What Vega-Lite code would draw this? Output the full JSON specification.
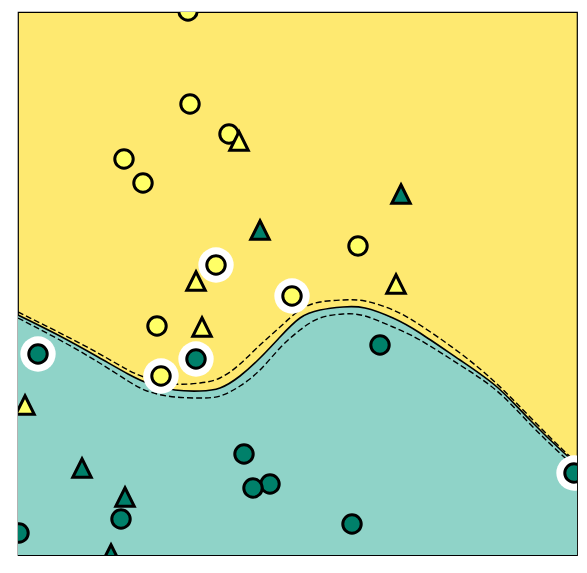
{
  "$schema": "https://vega.github.io/schema/vega-lite/v6.json",
  "width": 559,
  "height": 543,
  "autosize": {"type": "none"},
  "padding": {"left": 18, "top": 12, "right": 10, "bottom": 18},
  "background": "white",
  "config": {"view": {"fill": "#fee970", "stroke": "black", "strokeWidth": 1.2}},
  "datasets": {
    "curve": [
      {"x": 0, "mid": 240, "hi": 243, "lo": 237},
      {"x": 40, "mid": 220, "hi": 223, "lo": 216},
      {"x": 80, "mid": 198, "hi": 202, "lo": 193},
      {"x": 110, "mid": 181, "hi": 185, "lo": 174},
      {"x": 132, "mid": 171, "hi": 176, "lo": 163},
      {"x": 157, "mid": 165, "hi": 171, "lo": 158},
      {"x": 182, "mid": 164, "hi": 172, "lo": 157},
      {"x": 202, "mid": 167, "hi": 177, "lo": 159},
      {"x": 222, "mid": 179, "hi": 191, "lo": 169},
      {"x": 242, "mid": 197, "hi": 210, "lo": 185},
      {"x": 262, "mid": 218, "hi": 228, "lo": 207},
      {"x": 282, "mid": 237, "hi": 245, "lo": 225},
      {"x": 302, "mid": 245, "hi": 253, "lo": 237},
      {"x": 325, "mid": 248, "hi": 255, "lo": 241},
      {"x": 347, "mid": 247, "hi": 254, "lo": 239},
      {"x": 375, "mid": 237, "hi": 245, "lo": 228},
      {"x": 402, "mid": 222, "hi": 230, "lo": 215},
      {"x": 442, "mid": 195, "hi": 202, "lo": 190},
      {"x": 479, "mid": 168, "hi": 171, "lo": 164},
      {"x": 512, "mid": 135, "hi": 138, "lo": 131},
      {"x": 545, "mid": 103, "hi": 105, "lo": 99},
      {"x": 559, "mid": 91, "hi": 93, "lo": 88}
    ],
    "pts": [
      {"x": 170, "y": 544, "cls": "A", "kind": "train", "sv": false},
      {"x": 172, "y": 451, "cls": "A", "kind": "train", "sv": false},
      {"x": 211, "y": 421, "cls": "A", "kind": "train", "sv": false},
      {"x": 106, "y": 396, "cls": "A", "kind": "train", "sv": false},
      {"x": 125, "y": 372, "cls": "A", "kind": "train", "sv": false},
      {"x": 198, "y": 290, "cls": "A", "kind": "train", "sv": true},
      {"x": 340, "y": 309, "cls": "A", "kind": "train", "sv": false},
      {"x": 274, "y": 259, "cls": "A", "kind": "train", "sv": true},
      {"x": 139, "y": 229, "cls": "A", "kind": "train", "sv": false},
      {"x": 143, "y": 179, "cls": "A", "kind": "train", "sv": true},
      {"x": 20, "y": 201, "cls": "B", "kind": "train", "sv": true},
      {"x": 178, "y": 196, "cls": "B", "kind": "train", "sv": true},
      {"x": 362, "y": 210, "cls": "B", "kind": "train", "sv": false},
      {"x": 226, "y": 101, "cls": "B", "kind": "train", "sv": false},
      {"x": 252, "y": 71, "cls": "B", "kind": "train", "sv": false},
      {"x": 235, "y": 67, "cls": "B", "kind": "train", "sv": false},
      {"x": 103, "y": 36, "cls": "B", "kind": "train", "sv": false},
      {"x": 334, "y": 31, "cls": "B", "kind": "train", "sv": false},
      {"x": 1, "y": 22, "cls": "B", "kind": "train", "sv": false},
      {"x": 556, "y": 82, "cls": "B", "kind": "train", "sv": true},
      {"x": 221, "y": 414, "cls": "A", "kind": "test", "sv": false},
      {"x": 178, "y": 274, "cls": "A", "kind": "test", "sv": false},
      {"x": 184, "y": 228, "cls": "A", "kind": "test", "sv": false},
      {"x": 378, "y": 271, "cls": "A", "kind": "test", "sv": false},
      {"x": 7, "y": 150, "cls": "A", "kind": "test", "sv": false},
      {"x": 242, "y": 325, "cls": "B", "kind": "test", "sv": false},
      {"x": 383, "y": 361, "cls": "B", "kind": "test", "sv": false},
      {"x": 64, "y": 87, "cls": "B", "kind": "test", "sv": false},
      {"x": 107, "y": 58, "cls": "B", "kind": "test", "sv": false},
      {"x": 93, "y": 1, "cls": "B", "kind": "test", "sv": false}
    ]
  },
  "encoding": {
    "x": {"field": "x", "type": "quantitative", "scale": {"domain": [0, 559], "nice": false, "zero": false}, "axis": null},
    "y": {"type": "quantitative", "scale": {"domain": [0, 543], "nice": false, "zero": false}, "axis": null}
  },
  "layer": [
    {
      "data": {"name": "curve"},
      "mark": {"type": "area", "color": "#8fd3c8", "interpolate": "natural", "clip": true},
      "encoding": {"y": {"field": "mid"}, "y2": {"datum": 0}}
    },
    {
      "data": {"name": "curve"},
      "mark": {"type": "line", "color": "black", "strokeWidth": 1.4, "strokeDash": [6, 3], "interpolate": "natural", "clip": true},
      "encoding": {"y": {"field": "hi"}}
    },
    {
      "data": {"name": "curve"},
      "mark": {"type": "line", "color": "black", "strokeWidth": 1.4, "strokeDash": [6, 3], "interpolate": "natural", "clip": true},
      "encoding": {"y": {"field": "lo"}}
    },
    {
      "data": {"name": "curve"},
      "mark": {"type": "line", "color": "black", "strokeWidth": 1.6, "interpolate": "natural", "clip": true},
      "encoding": {"y": {"field": "mid"}}
    },
    {
      "data": {"name": "pts"},
      "transform": [{"filter": "datum.sv"}],
      "mark": {"type": "point", "shape": "circle", "filled": true, "color": "white", "opacity": 1, "size": 1250, "clip": true},
      "encoding": {"y": {"field": "y"}}
    },
    {
      "data": {"name": "pts"},
      "mark": {"type": "point", "filled": true, "opacity": 1, "stroke": "black", "strokeWidth": 3, "size": 340, "clip": true},
      "encoding": {
        "y": {"field": "y"},
        "fill": {"field": "cls", "type": "nominal", "scale": {"domain": ["A", "B"], "range": ["#ffff66", "#00806a"]}, "legend": null},
        "shape": {"field": "kind", "type": "nominal", "scale": {"domain": ["train", "test"], "range": ["circle", "M0,-1L1,1L-1,1Z"]}, "legend": null}
      }
    }
  ]
}
